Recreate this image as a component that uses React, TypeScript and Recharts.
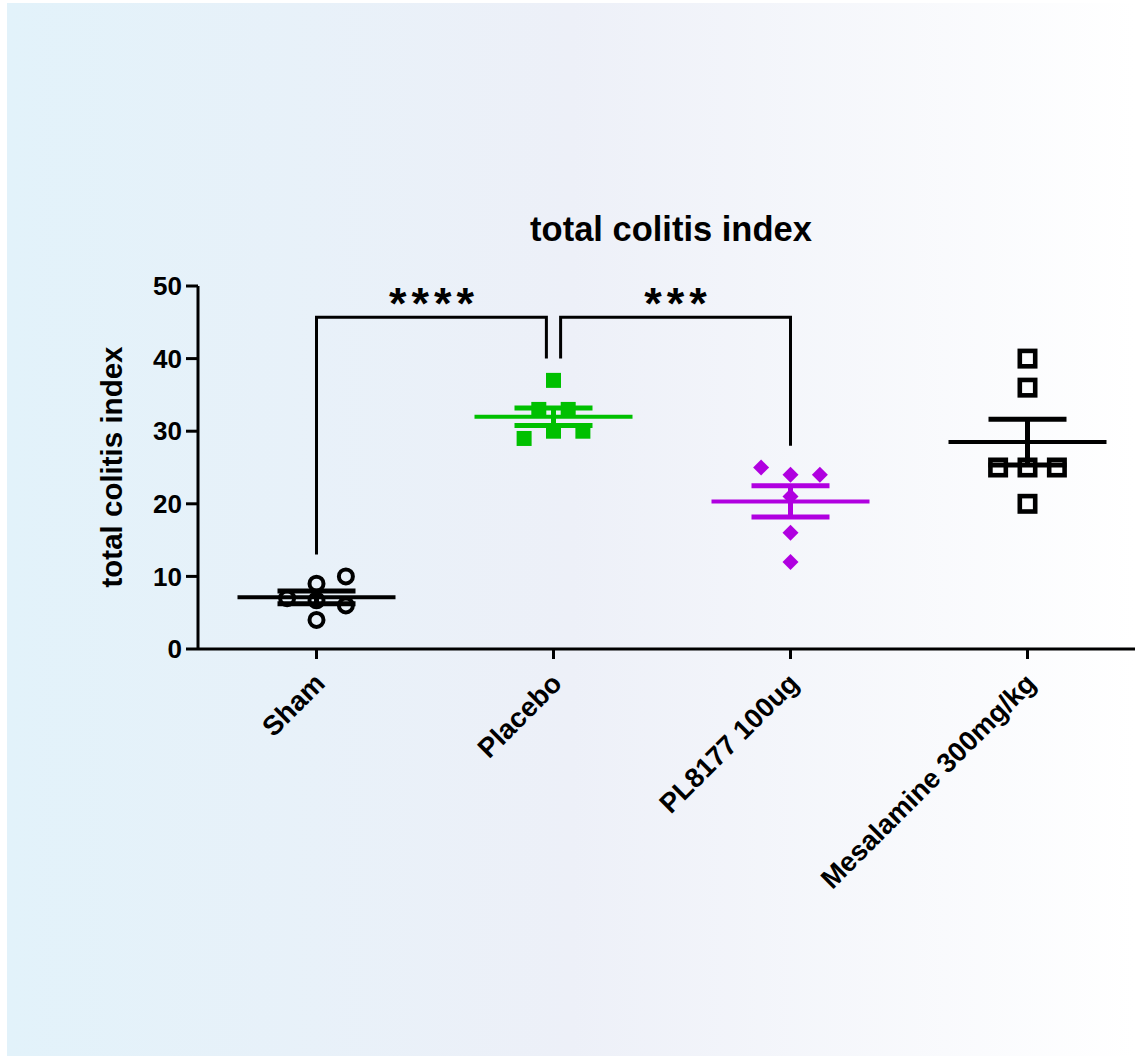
import React from 'react'
import { ComposedChart, Scatter, XAxis, YAxis, ErrorBar } from 'recharts'

// groups on the x axis
const groups = ['Sham', 'Placebo', 'PL8177 100ug', 'Mesalamine 300mg/kg']
const groupColors = ['#000000', '#00c000', '#b000e0', '#000000']

// individual animals (value + column slot used by the scatter spread)
const shamValues = [7, 9, 10, 6.7, 6, 4]
const shamSlots = [-2, 0, 2, 0, 2, 0]
const placeboValues = [37, 33, 33, 29, 30, 30]
const placeboSlots = [0, -1, 1, -2, 0, 2]
const pl8177Values = [25, 24, 24, 21, 16, 12]
const pl8177Slots = [-2, 0, 2, 0, 0, 0]
const mesalamineValues = [40, 36, 25, 25, 25, 20]
const mesalamineSlots = [0, 0, -2, 0, 2, 0]

const yTicks = [0, 10, 20, 30, 40, 50]

// significance brackets
const bracketSham = [
  { x: 0, y: 13 },
  { x: 0, y: 45.7 },
  { x: 0.97, y: 45.7 },
  { x: 0.97, y: 40 },
]
const bracketPl = [
  { x: 1.03, y: 40 },
  { x: 1.03, y: 45.7 },
  { x: 2, y: 45.7 },
  { x: 2, y: 28 },
]
const stars = [
  { x: 0.485, y: 49, label: '****' },
  { x: 1.515, y: 49, label: '***' },
]

const SLOT = 0.062
const FONT = '"Liberation Sans", Arial, Helvetica, sans-serif'

const allValues = [shamValues, placeboValues, pl8177Values, mesalamineValues]
const allSlots = [shamSlots, placeboSlots, pl8177Slots, mesalamineSlots]

const points = allValues.map((vals, g) =>
  vals.map((v, i) => ({ x: g + allSlots[g][i] * SLOT, y: v }))
)

const stats = allValues.map((vals, g) => {
  const n = vals.length
  const mean = vals.reduce((a, b) => a + b, 0) / n
  const sd = Math.sqrt(vals.reduce((a, b) => a + (b - mean) ** 2, 0) / (n - 1))
  return { x: g, y: mean, sem: sd / Math.sqrt(n) }
})

const OpenCircle = ({ cx, cy }: any) => (
  <circle cx={cx} cy={cy} r={7} fill="none" stroke="#000" strokeWidth={4} />
)
const FilledSquare = ({ cx, cy }: any) => (
  <rect x={cx - 7.5} y={cy - 7.5} width={15} height={15} fill={groupColors[1]} />
)
const Diamond = ({ cx, cy }: any) => (
  <polygon
    points={`${cx},${cy - 8} ${cx + 8},${cy} ${cx},${cy + 8} ${cx - 8},${cy}`}
    fill={groupColors[2]}
  />
)
const OpenSquare = ({ cx, cy }: any) => (
  <rect x={cx - 7.7} y={cy - 7.7} width={15.4} height={15.4} fill="none" stroke="#000" strokeWidth={4.6} />
)
const shapes = [OpenCircle, FilledSquare, Diamond, OpenSquare]

const meanLine = (color: string) => ({ cx, cy }: any) => (
  <line x1={cx - 79} x2={cx + 79} y1={cy} y2={cy} stroke={color} strokeWidth={4} />
)

const StarLabel = ({ cx, cy, payload }: any) => (
  <text
    x={cx + 2.5}
    y={cy + 26}
    textAnchor="middle"
    fontSize={45}
    fontWeight="bold"
    letterSpacing={5}
    fontFamily={FONT}
    fill="#000"
  >
    {payload.label}
  </text>
)

const GroupTick = ({ x, y, payload }: any) => (
  <text
    x={0}
    y={0}
    transform={`translate(${x + 10},${y + 24}) rotate(-45)`}
    textAnchor="end"
    fontSize={27.5}
    fontWeight="bold"
    fontFamily={FONT}
    fill="#000"
  >
    {groups[payload.value]}
  </text>
)

const YLabel = () => (
  <text
    x={122}
    y={467}
    transform="rotate(-90 122 467)"
    textAnchor="middle"
    fontSize={29.5}
    fontWeight="bold"
    fontFamily={FONT}
    fill="#000"
  >
    total colitis index
  </text>
)

export default function App() {
  return (
    <div
      style={{
        position: 'absolute',
        left: 0,
        top: 0,
        width: 1135,
        height: 1056,
        overflow: 'hidden',
        background: '#ffffff',
      }}
    >
      <div
        style={{
          position: 'absolute',
          left: 7,
          top: 3,
          right: 0,
          bottom: 0,
          background: 'linear-gradient(to right, #e2f2fa 0%, #edf0f8 50%, #ffffff 100%)',
        }}
      />
      <div
        style={{
          position: 'absolute',
          left: 471,
          top: 212,
          width: 400,
          textAlign: 'center',
          fontFamily: FONT,
          fontWeight: 'bold',
          fontSize: 34.5,
          lineHeight: '34px',
          color: '#000',
        }}
      >
        total colitis index
      </div>
      <div style={{ position: 'absolute', left: 0, top: 0 }}>
        <ComposedChart width={1160} height={1056} margin={{ top: 286, right: 14, bottom: 377, left: 118 }}>
          <XAxis
            type="number"
            dataKey="x"
            domain={[-0.5, 3.5]}
            ticks={[0, 1, 2, 3]}
            allowDataOverflow
            height={30}
            tickSize={10}
            axisLine={{ stroke: '#000', strokeWidth: 3 }}
            tickLine={{ stroke: '#000', strokeWidth: 3 }}
            tick={<GroupTick />}
            interval={0}
          />
          <YAxis
            type="number"
            dataKey="y"
            domain={[0, 50]}
            ticks={yTicks}
            width={80}
            tickSize={12}
            tickMargin={4}
            axisLine={{ stroke: '#000', strokeWidth: 3 }}
            tickLine={{ stroke: '#000', strokeWidth: 3 }}
            tick={{ fill: '#000', fontSize: 26, fontWeight: 'bold', fontFamily: FONT }}
            label={<YLabel />}
          />
          <Scatter
            data={bracketSham}
            line={{ stroke: '#000', strokeWidth: 3 }}
            lineType="joint"
            shape={() => null}
            isAnimationActive={false}
          />
          <Scatter
            data={bracketPl}
            line={{ stroke: '#000', strokeWidth: 3 }}
            lineType="joint"
            shape={() => null}
            isAnimationActive={false}
          />
          <Scatter data={stars} shape={<StarLabel />} isAnimationActive={false} />
          {points.map((pts, g) => {
            const Shape = shapes[g]
            return <Scatter key={'p' + g} data={pts} shape={<Shape />} isAnimationActive={false} />
          })}
          {stats.map((s, g) => (
            <Scatter key={'s' + g} data={[s]} shape={meanLine(groupColors[g])} isAnimationActive={false}>
              <ErrorBar dataKey="sem" direction="y" width={39} stroke={groupColors[g]} strokeWidth={5} />
            </Scatter>
          ))}
        </ComposedChart>
      </div>
    </div>
  )
}
